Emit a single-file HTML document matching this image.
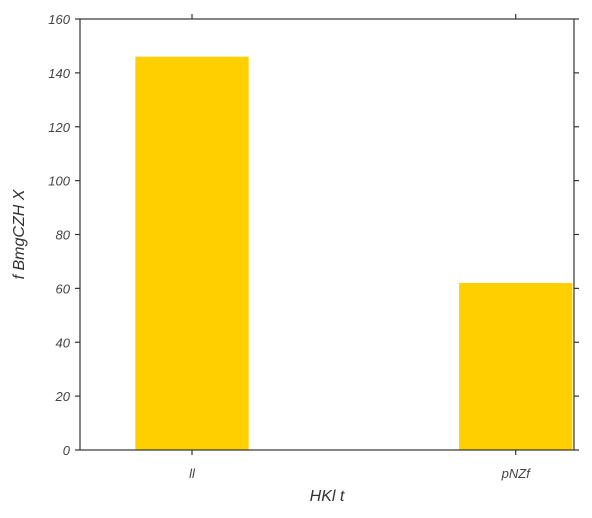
<!DOCTYPE html>
<html><head><meta charset="utf-8"><style>
html,body{margin:0;padding:0;background:#fff;}
svg{display:block;font-family:"Liberation Sans",sans-serif;}
</style></head><body>
<svg id="chart" width="592" height="518">
<g id="g"></g>
</svg>
<script>
const categories = ["ll", "pNZf"];
const values = [146, 62];
const yTicks = [0, 20, 40, 60, 80, 100, 120, 140, 160];
const L = 80, R = 574, T = 19, B = 450;
const xMin = -0.346, xMax = 1.18, yMax = 160, barW = 0.35;
const xs = v => L + (v - xMin) / (xMax - xMin) * (R - L);
const ys = v => B - v / yMax * (B - T);
const g = document.getElementById('g');
const NS = 'http://www.w3.org/2000/svg';
function mk(tag, attrs, parent) {
  const e = document.createElementNS(NS, tag);
  for (const k in attrs) e.setAttribute(k, attrs[k]);
  (parent || g).appendChild(e);
  return e;
}
categories.forEach((c, i) => {
  const r = mk('rect', {x: xs(i - barW/2), y: ys(values[i]), width: xs(i + barW/2) - xs(i - barW/2), height: B - ys(values[i]), fill: '#ffcf00'});
  
  
  const t = mk('text', {x: xs(i), y: 478, 'text-anchor': 'middle', 'font-size': 13, 'font-style': 'italic', fill: '#444'});
  t.textContent = c;
  
  
  mk('line', {x1: xs(i), x2: xs(i), y1: B, y2: B + 5, stroke: '#333', 'stroke-width': 1.2});
  mk('line', {x1: xs(i), x2: xs(i), y1: T, y2: T - 5, stroke: '#333', 'stroke-width': 1.2});
});
yTicks.forEach(v => {
  const y = ys(v);
  mk('line', {x1: L - 5, x2: L, y1: y, y2: y, stroke: '#333', 'stroke-width': 1.2});
  mk('line', {x1: R, x2: R + 5, y1: y, y2: y, stroke: '#333', 'stroke-width': 1.2});
  const t = mk('text', {x: L - 10, y: y + 5, 'text-anchor': 'end', 'font-size': 13, 'font-style': 'italic', fill: '#444'});
  t.textContent = v;
  
  
});
const f = mk('rect', {x: L, y: T, width: R - L, height: B - T, fill: 'none', stroke: '#333', 'stroke-width': 1.2});


const xt = mk('text', {x: (L + R) / 2, y: 501, 'text-anchor': 'middle', 'font-size': 16, 'font-style': 'italic', fill: '#333'});
xt.textContent = 'HKl t';


const yt = mk('text', {x: 0, y: 0, transform: 'translate(24,' + (T + B) / 2 + ') rotate(-90)', 'text-anchor': 'middle', 'font-size': 16, 'font-style': 'italic', fill: '#333'});
yt.textContent = 'f BmgCZH X';


</script>
</body></html>
